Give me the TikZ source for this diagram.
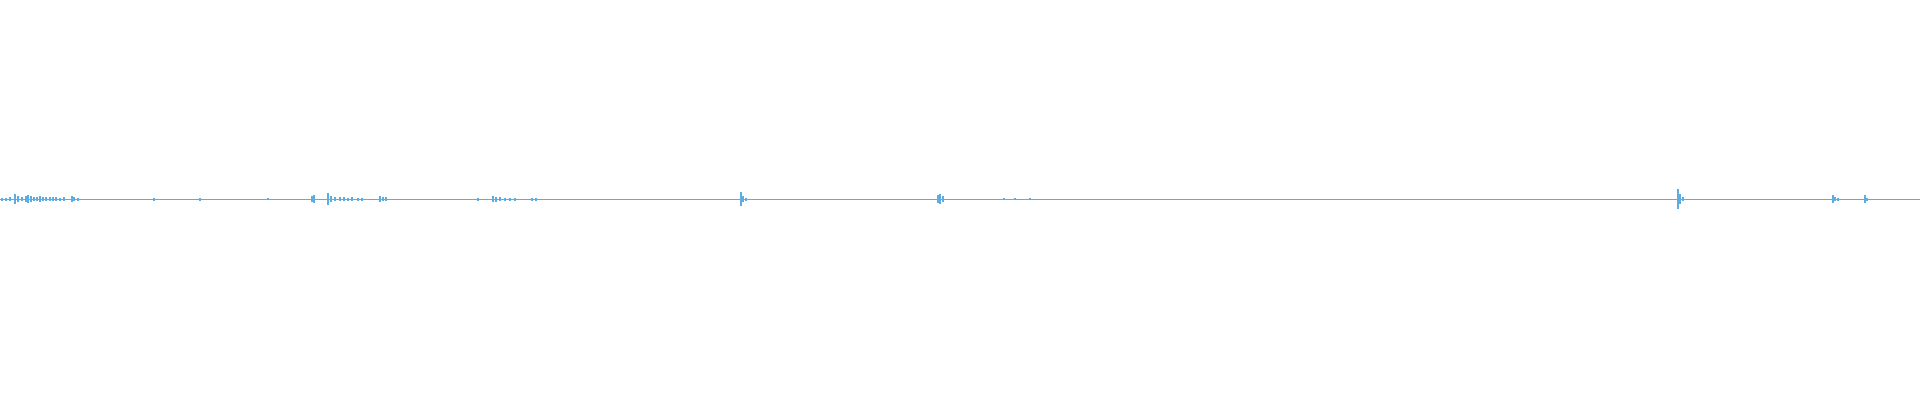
\documentclass[tikz,border=0pt]{standalone}
\definecolor{wave}{RGB}{93,173,226}
\begin{document}
\begin{tikzpicture}[x=1pt,y=-1pt,spk/.style={draw=wave,line width=1.4pt}]
\useasboundingbox (0,0) rectangle (1920,400);
\coordinate (L) at (0,199);
\coordinate (R) at (1920,199);
\draw[wave,line width=1pt] (L) -- (R);
\foreach \x/\a in {2/1.5,6/1.5,10/2,15/5,18/3,22/2,26/3,28/4,31/3,34/2,37/2,40/3,43/2,46/2,50/2,53/2,56/2,60/1.5,64/2,72/3,74/2,78/1.5,154/1.5,200/1.5,268/1,312/3,314/4,328/6,331/3,335/2,340/2,344/2,348/1.5,352/2,358/1.5,362/1.5,380/3,383/2,386/2,478/1.5,493/3,496/2.5,500/2,505/1.5,510/1.5,515/1.5,532/1.5,536/1.5,741/7,743/3,746/1.5,938/4,940/5,943/3,1004/1.2,1015/1.2,1030/1.2,1678/10,1680/5,1683/2,1833/4,1835/2,1838/1.5,1865/4,1867/1.5}
  \draw[spk] (\x,199-\a) -- (\x,199+\a);
\end{tikzpicture}
\end{document}
